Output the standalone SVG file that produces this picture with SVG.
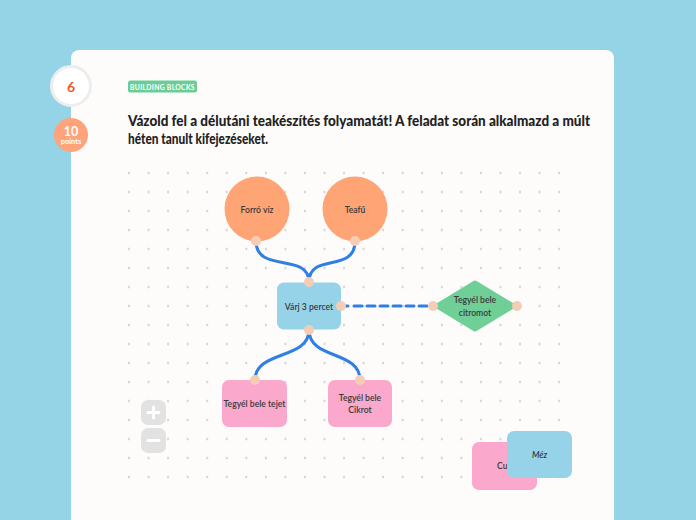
<svg xmlns="http://www.w3.org/2000/svg" width="696" height="520" viewBox="0 0 696 520">
<style>
.t{font-family:Lato,"Open Sans","DejaVu Sans",sans-serif;}
.lbl{font-family:Lato,"Open Sans",sans-serif;font-size:8.6px;fill:#3a3a3a;text-anchor:middle;dominant-baseline:central;font-weight:600;}
.port{fill:#F5CDB5;}
.conn{fill:none;stroke:#2F7FE6;stroke-width:3;stroke-linecap:round;}
.btn{fill:#E2E2E2;}
.sym{stroke:#fff;stroke-width:3;stroke-linecap:round;}
</style>
<defs>
<pattern id="dots" patternUnits="userSpaceOnUse" x="119.225" y="163.5" width="19.55" height="19">
<circle cx="9.775" cy="9.5" r="1.1" fill="#C4C4C4"/>
</pattern>
</defs>
<rect width="696" height="520" fill="#95D3E6"/>
<rect x="71" y="50" width="543" height="490" rx="8" fill="#FDFCFB"/>
<g id="badge-number">
<circle cx="71" cy="86" r="19.5" fill="#FFFFFF" stroke="#EDEDED" stroke-width="3"/>
<text class="t" x="71" y="86" font-size="14" fill="#F0562A" text-anchor="middle" dominant-baseline="central" font-weight="700">6</text>
</g>
<g id="badge-points">
<circle cx="71" cy="135" r="17" fill="#FFA37A"/>
<text class="t" x="71" y="131" font-size="12.5" fill="#FFFFFF" text-anchor="middle" dominant-baseline="central" font-weight="700">10</text>
<text class="t" x="71" y="141.5" font-size="7.5" fill="#FFFFFF" text-anchor="middle" dominant-baseline="central" font-weight="700">points</text>
</g>
<g id="tag">
<rect x="128" y="80.5" width="69" height="12" rx="2.5" fill="#6ACD95"/>
<text class="t" x="162.5" y="86.8" font-size="6.8" fill="#FFFFFF" text-anchor="middle" dominant-baseline="central" font-weight="700" letter-spacing="0.3">BUILDING BLOCKS</text>
</g>
<g id="title" class="t" font-size="14.2" font-weight="900" fill="#222222">
<text x="128" y="125.5" textLength="462" lengthAdjust="spacingAndGlyphs">Vázold fel a délutáni teakészítés folyamatát! A feladat során alkalmazd a múlt</text>
<text x="128" y="143.5" textLength="140" lengthAdjust="spacingAndGlyphs">héten tanult kifejezéseket.</text>
</g>
<rect id="grid" x="119" y="163" width="451" height="325" fill="url(#dots)"/>
<g id="connectors">
<path class="conn" d="M256 241 C256 274 309 252 309 282"/>
<path class="conn" d="M355 241 C355 274 309 252 309 282"/>
<path class="conn" d="M309 330 C309 360 255 350 255 380"/>
<path class="conn" d="M309 330 C309 360 360 350 360 380"/>
<path class="conn" d="M346 306 L433 306" stroke-dasharray="2 6 8 5 8 5 8 5 8 5 8 5 8 5 8 5" stroke-linecap="butt"/>
</g>
<g id="node-forro-viz">
<circle cx="257" cy="209" r="32.5" fill="#FFA474"/>
<text class="lbl" x="257" y="210">Forró víz</text>
<circle class="port" cx="256" cy="241" r="5"/>
</g>
<g id="node-teafu">
<circle cx="355" cy="209" r="32.5" fill="#FFA474"/>
<text class="lbl" x="355" y="210">Teafű</text>
<circle class="port" cx="355" cy="241" r="5"/>
</g>
<g id="node-varj">
<rect x="277" y="282.5" width="64" height="47" rx="7" fill="#96D3E8"/>
<text class="lbl" x="309" y="306.5">Várj 3 percet</text>
<circle class="port" cx="309" cy="282" r="5"/>
<circle class="port" cx="341" cy="306" r="5"/>
<circle class="port" cx="309" cy="330" r="5"/>
</g>
<g id="node-citrom">
<polygon points="438,306 475,283.5 512,306 475,328.5" fill="#6FCF97" stroke="#6FCF97" stroke-width="6" stroke-linejoin="round"/>
<text class="lbl" x="475" y="300">Tegyél bele</text>
<text class="lbl" x="475" y="312.5">citromot</text>
<circle class="port" cx="433" cy="306" r="5"/>
<circle class="port" cx="517" cy="306" r="5"/>
</g>
<g id="node-tejet">
<rect x="222" y="380" width="65" height="47" rx="7" fill="#FAA8CB"/>
<text class="lbl" x="254.5" y="404">Tegyél bele tejet</text>
<circle class="port" cx="255" cy="380" r="5"/>
</g>
<g id="node-cikrot">
<rect x="328" y="380" width="64" height="47" rx="7" fill="#FAA8CB"/>
<text class="lbl" x="360" y="397.5">Tegyél bele</text>
<text class="lbl" x="360" y="410">Cikrot</text>
<circle class="port" cx="360" cy="380" r="5"/>
</g>
<g id="zoom-in">
<rect class="btn" x="141" y="400" width="25" height="25" rx="7"/>
<path class="sym" d="M148 412.5 H159 M153.5 407 V418"/>
</g>
<g id="zoom-out">
<rect class="btn" x="141" y="428" width="25" height="25" rx="7"/>
<path class="sym" d="M148 440.5 H159"/>
</g>
<g id="node-cukor">
<rect x="472" y="442" width="65" height="48" rx="7" fill="#FAA8CB"/>
<text class="lbl" x="497" y="466" style="text-anchor:start">Cu</text>
</g>
<g id="node-mez">
<rect x="507" y="431" width="65" height="47" rx="7" fill="#96D3E8"/>
<text class="lbl" x="539.5" y="455" font-style="italic">Méz</text>
</g>
</svg>
